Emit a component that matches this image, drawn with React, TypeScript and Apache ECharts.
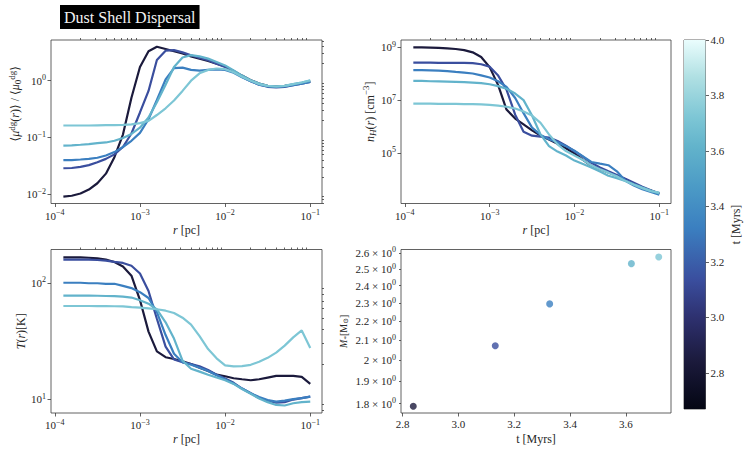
import React, { useEffect, useRef } from "react";
import * as echarts from "echarts";

// ---------- data ----------
const radiiPc = [
  1.26e-4, 1.58e-4, 2.0e-4, 2.51e-4, 3.16e-4, 3.98e-4, 5.01e-4, 6.31e-4, 7.94e-4, 1.0e-3,
  1.26e-3, 1.58e-3, 2.0e-3, 2.51e-3, 3.16e-3, 3.98e-3, 5.01e-3, 6.31e-3, 7.94e-3, 1.0e-2,
  1.26e-2, 1.58e-2, 2.0e-2, 2.51e-2, 3.16e-2, 3.98e-2, 5.01e-2, 6.31e-2, 7.94e-2, 0.1,
];

const snapshotTimes = [2.838, 3.132, 3.327, 3.62, 3.718];
const snapshotColors = ["#1b1a3c", "#3a4e9e", "#3b7fc0", "#62b3cb", "#7dc6d5"];

const muRatioProfiles = [
  [0.009, 0.00933, 0.0102, 0.012, 0.0155, 0.0229, 0.0447, 0.112, 0.5, 1.74, 3.31, 3.98, 3.63, 3.31, 3.02, 2.69, 2.45, 2.24, 2.0, 1.78, 1.48, 1.23, 1.02, 0.89, 0.81, 0.79, 0.81, 0.85, 0.91, 0.97],
  [0.0285, 0.0288, 0.0302, 0.0324, 0.0363, 0.0417, 0.0501, 0.0676, 0.117, 0.275, 0.66, 2.32, 3.39, 3.47, 3.16, 2.82, 2.51, 2.29, 2.0, 1.74, 1.45, 1.17, 0.98, 0.85, 0.78, 0.76, 0.78, 0.83, 0.89, 0.95],
  [0.0398, 0.0398, 0.0407, 0.0417, 0.0437, 0.0479, 0.055, 0.0676, 0.087, 0.12, 0.209, 0.457, 1.05, 1.66, 1.7, 1.55, 1.51, 1.55, 1.58, 1.55, 1.38, 1.15, 0.98, 0.85, 0.79, 0.78, 0.79, 0.83, 0.89, 0.95],
  [0.0714, 0.0724, 0.0741, 0.0759, 0.0794, 0.0813, 0.0871, 0.0977, 0.115, 0.148, 0.224, 0.417, 0.85, 1.74, 2.57, 2.82, 2.69, 2.45, 2.14, 1.86, 1.51, 1.23, 1.02, 0.89, 0.81, 0.79, 0.81, 0.87, 0.93, 1.0],
  [0.162, 0.162, 0.162, 0.162, 0.163, 0.164, 0.164, 0.166, 0.17, 0.178, 0.195, 0.248, 0.326, 0.447, 0.66, 1.0, 1.35, 1.55, 1.64, 1.6, 1.41, 1.17, 1.0, 0.87, 0.81, 0.79, 0.81, 0.87, 0.93, 1.02],
];

const densityProfiles = [
  [1.0e9, 1.0e9, 9.8e8, 9.5e8, 9.1e8, 8.7e8, 7.9e8, 6.5e8, 4.3e8, 1.78e8, 3.7e7, 4.4e6, 2.0e6, 1.2e6, 7.1e5, 4.5e5, 3.2e5, 2.2e5, 1.5e5, 9.5e4, 5.4e4, 3.2e4, 2.4e4, 1.82e4, 1.35e4, 1.0e4, 6.9e3, 4.7e3, 3.7e3, 2.9e3],
  [2.63e8, 2.63e8, 2.63e8, 2.57e8, 2.57e8, 2.57e8, 2.57e8, 2.51e8, 2.29e8, 1.86e8, 8.5e7, 2.5e7, 2.8e6, 6.3e5, 4.5e5, 4.1e5, 3.8e5, 2.8e5, 1.86e5, 1.15e5, 7.1e4, 4.2e4, 2.8e4, 2.0e4, 1.45e4, 1.05e4, 7.4e3, 5.2e3, 3.8e3, 2.75e3],
  [1.38e8, 1.38e8, 1.35e8, 1.32e8, 1.26e8, 1.17e8, 1.1e8, 1.02e8, 8.7e7, 7.2e7, 5.2e7, 3.2e7, 1.2e7, 3.2e6, 9.1e5, 4.8e5, 3.3e5, 2.5e5, 1.8e5, 1.2e5, 7.4e4, 4.5e4, 3.9e4, 3.4e4, 2.0e4, 8.7e3, 5.8e3, 4.2e3, 3.3e3, 2.6e3],
  [5.4e7, 5.4e7, 5.2e7, 5.1e7, 5.0e7, 4.9e7, 4.8e7, 4.6e7, 4.4e7, 4.0e7, 3.4e7, 2.7e7, 1.78e7, 1.0e7, 2.6e6, 5.0e5, 1.8e5, 1.12e5, 7.9e4, 5.1e4, 3.8e4, 2.8e4, 1.95e4, 1.35e4, 1.1e4, 8.7e3, 6.5e3, 4.9e3, 3.7e3, 2.9e3],
  [7.4e6, 7.4e6, 7.4e6, 7.2e6, 7.2e6, 7.2e6, 7.1e6, 7.1e6, 6.9e6, 6.6e6, 6.2e6, 5.6e6, 4.8e6, 3.7e6, 2.6e6, 1.38e6, 5.0e5, 2.1e5, 1.17e5, 7.9e4, 5.4e4, 3.3e4, 2.4e4, 1.78e4, 1.29e4, 8.5e3, 6.2e3, 4.6e3, 3.5e3, 3.1e3],
];

const temperatureProfiles = [
  [165, 165, 165, 164, 162, 158, 151, 138, 115, 71, 38, 25.7, 22.9, 22.1, 21.1, 20.0, 18.6, 17.4, 16.2, 15.7, 15.1, 14.8, 14.5, 14.8, 15.3, 15.8, 15.8, 15.8, 15.5, 13.5],
  [158, 158, 158, 158, 157, 155, 151, 148, 140, 120, 85, 49, 28.2, 21.9, 20.7, 20.0, 19.1, 17.8, 16.2, 15.0, 13.8, 12.3, 11.2, 10.2, 9.7, 9.3, 9.4, 9.9, 10.2, 10.5],
  [100, 100, 100, 99, 99, 98, 98, 94, 90, 83, 74, 56, 35.5, 24.5, 20.7, 19.7, 18.6, 17.4, 16.0, 14.8, 13.6, 12.3, 11.2, 10.4, 9.8, 9.5, 9.7, 10.0, 10.2, 10.5],
  [77.6, 77.6, 77.6, 77.6, 77.3, 76.9, 76.6, 75.9, 74.6, 70.8, 66.1, 58.9, 45.7, 33.1, 21.4, 18.2, 17.2, 16.2, 15.3, 14.5, 13.5, 12.2, 11.1, 10.1, 9.4, 8.9, 8.8, 9.2, 9.4, 9.5],
  [63.1, 63.1, 63.1, 63.1, 63.0, 63.0, 62.8, 62.7, 61.7, 61.0, 60.3, 59.2, 57.5, 55.0, 50.1, 43.7, 34.7, 26.9, 22.4, 19.5, 19.1, 19.2, 19.7, 20.9, 22.6, 25.1, 28.8, 33.9, 38.9, 27.5],
];

const stellarMass = [1.788, 2.073, 2.296, 2.533, 2.574];

// tick labels
const radiusTicks = [1e-4, 1e-3, 1e-2, 1e-1];
const muTicks = [1e-2, 1e-1, 1];
const densityTicks = [1e5, 1e7, 1e9];
const temperatureTicks = [10, 100];
const timeTicks = [2.8, 3.0, 3.2, 3.4, 3.6];
const massTicks = [1.8, 1.9, 2.0, 2.1, 2.2, 2.3, 2.4, 2.5, 2.6];
const colorbarTicks = [2.8, 3.0, 3.2, 3.4, 3.6, 3.8, 4.0];
const colorbarRange = [2.67, 4.0];
const iceStops: [number, string][] = [
  [0, "#040613"],
  [0.13, "#1b1a3c"],
  [0.25, "#2e3170"],
  [0.35, "#3a4e9e"],
  [0.49, "#3b7fc0"],
  [0.6, "#4b9ac6"],
  [0.71, "#62b3cb"],
  [0.79, "#7dc6d5"],
  [0.9, "#b0e0e3"],
  [1, "#eafdfd"],
];

// ---------- helpers ----------
const FONT = "Liberation Serif, DejaVu Serif, serif";
const TXT = "#262626";
const SPINE = "#3a3a3a";
const lg = Math.log10;

const rich = {
  b: { fontFamily: FONT, fontSize: 11, color: TXT },
  sup: { fontFamily: FONT, fontSize: 8, color: TXT, padding: [0, 0, 6, 0] },
  nsup: { fontFamily: FONT, fontSize: 9, color: TXT, padding: [0, 0, 7, 0] },
  nsub: { fontFamily: FONT, fontSize: 9, color: TXT, padding: [6, 0, 0, 0] },
  nsubi: { fontFamily: FONT, fontSize: 9, color: TXT, fontStyle: "italic", padding: [6, 0, 0, 0] },
  i: { fontFamily: FONT, fontSize: 12, color: TXT, fontStyle: "italic" },
  n: { fontFamily: FONT, fontSize: 12, color: TXT },
  si: { fontFamily: FONT, fontSize: 10, color: TXT, fontStyle: "italic" },
  s: { fontFamily: FONT, fontSize: 10, color: TXT },
  ssub: { fontFamily: FONT, fontSize: 7, color: TXT, padding: [4, 0, 0, 0] },
};

function expText(e: number) {
  return e < 0 ? "\u2212" + -e : String(e);
}
function logLabel(v: number) {
  return `{b|10}{sup|${expText(Math.round(v))}}`;
}
function massLabel(v: number) {
  const m = Math.round(Math.pow(10, v) * 10) / 10;
  const s = Number.isInteger(m) ? String(m) : m.toFixed(1);
  return `{b|${s} \u00d7 10}{sup|0}`;
}
function minorLogTicks(lo: number, hi: number) {
  const out: number[] = [];
  for (let n = Math.floor(lo) - 1; n <= Math.ceil(hi); n++) {
    for (let k = 2; k <= 9; k++) {
      const v = Math.log10(k) + n;
      if (v >= lo && v <= hi) out.push(v);
    }
  }
  return out;
}

const tickStyle = { color: SPINE, width: 0.8 };

function majorAxis(gridIndex: number, min: number, max: number, values: number[], formatter: any, extra: any = {}) {
  return {
    type: "value",
    gridIndex,
    min,
    max,
    axisLine: { show: false, onZero: false },
    splitLine: { show: false },
    axisTick: { show: true, customValues: values, length: 3.5, lineStyle: tickStyle },
    axisLabel: {
      show: true,
      customValues: values,
      formatter,
      margin: 5,
      color: TXT,
      fontFamily: FONT,
      fontSize: 11,
      rich,
    },
    nameLocation: "middle",
    nameTextStyle: { fontFamily: FONT, fontSize: 12, color: TXT, rich },
    ...extra,
  };
}
function minorAxis(gridIndex: number, min: number, max: number, values: number[]) {
  return {
    type: "value",
    gridIndex,
    min,
    max,
    axisLine: { show: false, onZero: false },
    splitLine: { show: false },
    axisTick: { show: true, customValues: values, length: 2, lineStyle: tickStyle },
    axisLabel: { show: false },
  };
}

const rName = "{i|r}{n| [pc]}";
const X_RANGE: [number, number] = [-4.045, -0.862];
const MU_RANGE: [number, number] = [-2.167, 0.718];
const N_RANGE: [number, number] = [3.08, 9.28];
const T_RANGE: [number, number] = [0.88, 2.286];
const TIME_RANGE: [number, number] = [2.794, 3.762];
const M_RANGE: [number, number] = [lg(1.759), lg(2.622)];

const grids = [
  { left: 51, top: 40, width: 271, height: 163.5 },
  { left: 401, top: 40, width: 270, height: 163.5 },
  { left: 51, top: 249.5, width: 271, height: 163.5 },
  { left: 401, top: 249.5, width: 270, height: 163.5 },
  { left: 684, top: 40, width: 21.5, height: 369 },
].map((g) => ({ ...g, show: true, borderColor: SPINE, borderWidth: 0.8, backgroundColor: "transparent", containLabel: false }));

function profileSeries(profiles: number[][], xAxisIndex: number, yAxisIndex: number) {
  return profiles.map((vals, i) => ({
    type: "line",
    xAxisIndex,
    yAxisIndex,
    data: radiiPc.map((r, j) => [lg(r), lg(vals[j])]),
    showSymbol: false,
    symbol: "none",
    silent: true,
    lineStyle: { color: snapshotColors[i], width: 2.2 },
    itemStyle: { color: snapshotColors[i] },
    z: 2 + i,
  }));
}

function buildOption() {
  const xMajor = radiusTicks.map(lg);
  const xMinor = minorLogTicks(X_RANGE[0], X_RANGE[1]);

  const xAxis = [
    majorAxis(0, X_RANGE[0], X_RANGE[1], xMajor, logLabel, { name: rName, nameGap: 20 }),
    minorAxis(0, X_RANGE[0], X_RANGE[1], xMinor),
    majorAxis(1, X_RANGE[0], X_RANGE[1], xMajor, logLabel, { name: rName, nameGap: 20 }),
    minorAxis(1, X_RANGE[0], X_RANGE[1], xMinor),
    majorAxis(2, X_RANGE[0], X_RANGE[1], xMajor, logLabel, { name: rName, nameGap: 20 }),
    minorAxis(2, X_RANGE[0], X_RANGE[1], xMinor),
    majorAxis(3, TIME_RANGE[0], TIME_RANGE[1], timeTicks, (v: number) => v.toFixed(1), {
      name: "t [Myrs]",
      nameGap: 20,
    }),
    {
      type: "category",
      gridIndex: 4,
      data: [""],
      show: false,
    },
  ];

  const yAxis = [
    majorAxis(0, MU_RANGE[0], MU_RANGE[1], muTicks.map(lg), logLabel, {
      name: "{n|\u27e8}{i|\u03bc}{nsup|dg}{n|(}{i|r}{n|)\u27e9 / \u27e8}{i|\u03bc}{nsub|0}{nsup|dg}{n|\u27e9}",
      nameGap: 28,
      nameTextStyle: { fontFamily: FONT, fontSize: 12, color: TXT, rich, padding: [0, 0, 0, 36] },
    }),
    minorAxis(0, MU_RANGE[0], MU_RANGE[1], minorLogTicks(MU_RANGE[0], MU_RANGE[1])),
    majorAxis(1, N_RANGE[0], N_RANGE[1], densityTicks.map(lg), logLabel, {
      name: "{i|n}{nsubi|H}{n|(}{i|r}{n|) [cm}{nsup|\u22123}{n|]}",
      nameGap: 22,
      nameTextStyle: { fontFamily: FONT, fontSize: 12, color: TXT, rich, padding: [0, 0, 0, 20] },
    }),
    majorAxis(2, T_RANGE[0], T_RANGE[1], temperatureTicks.map(lg), logLabel, {
      name: "{i|T}{n|(}{i|r}{n|)[K]}",
      nameGap: 23,
    }),
    minorAxis(2, T_RANGE[0], T_RANGE[1], minorLogTicks(T_RANGE[0], T_RANGE[1])),
    majorAxis(3, M_RANGE[0], M_RANGE[1], massTicks.map(lg), massLabel, {
      name: "{si|M}{ssub|*}{s|[M}{ssub|\u2299}{s|]}",
      nameGap: 52,
      axisTick: { show: true, customValues: massTicks.map(lg), length: 2, lineStyle: tickStyle },
    }),
    majorAxis(4, colorbarRange[0], colorbarRange[1], colorbarTicks, (v: number) => v.toFixed(1), {
      position: "right",
      name: "t [Myrs]",
      nameGap: 24,
    }),
  ];

  const series: any[] = [
    ...profileSeries(muRatioProfiles, 0, 0),
    ...profileSeries(densityProfiles, 2, 2),
    ...profileSeries(temperatureProfiles, 4, 3),
    {
      type: "scatter",
      xAxisIndex: 6,
      yAxisIndex: 5,
      symbolSize: 7,
      silent: true,
      data: snapshotTimes.map((t, i) => ({
        value: [t, lg(stellarMass[i])],
        itemStyle: { color: snapshotColors[i] },
      })),
    },
    {
      type: "bar",
      xAxisIndex: 7,
      yAxisIndex: 6,
      stack: "cb",
      barWidth: "100%",
      silent: true,
      data: [colorbarRange[0]],
      itemStyle: { color: "rgba(0,0,0,0)" },
    },
    {
      type: "bar",
      xAxisIndex: 7,
      yAxisIndex: 6,
      stack: "cb",
      barWidth: "100%",
      silent: true,
      data: [colorbarRange[1] - colorbarRange[0]],
      itemStyle: {
        color: new echarts.graphic.LinearGradient(
          0,
          1,
          0,
          0,
          iceStops.map(([offset, color]) => ({ offset, color }))
        ),
      },
    },
  ];

  return {
    animation: false,
    backgroundColor: "#ffffff",
    textStyle: { fontFamily: FONT },
    title: {
      text: "Dust Shell Dispersal",
      left: 60,
      top: 5,
      backgroundColor: "#000000",
      padding: [4, 4, 4, 4],
      textStyle: {
        color: "#f2f2f2",
        fontFamily: FONT,
        fontSize: 16,
        fontWeight: "normal",
        lineHeight: 16,
      },
    },
    grid: grids,
    xAxis,
    yAxis,
    series,
  };
}

export default function App() {
  const ref = useRef<HTMLDivElement>(null);
  useEffect(() => {
    if (!ref.current) return;
    const chart = echarts.init(ref.current, undefined, { renderer: "svg" });
    chart.setOption(buildOption() as any);
    return () => chart.dispose();
  }, []);
  return (
    <div
      ref={ref}
      style={{ position: "absolute", left: 0, top: 0, width: 747, height: 451, background: "#fff" }}
    />
  );
}
